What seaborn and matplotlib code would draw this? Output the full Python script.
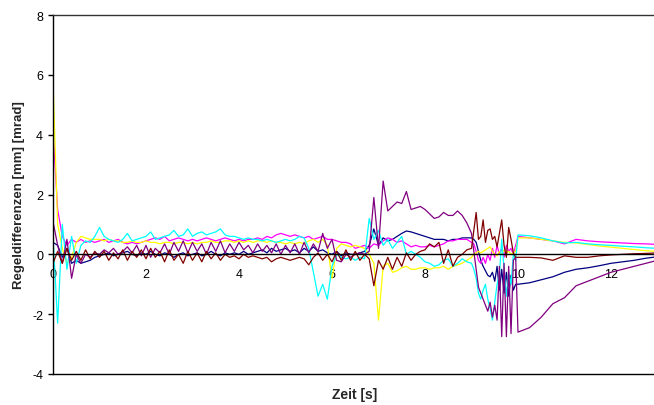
import numpy as np
import pandas as pd
import matplotlib
matplotlib.use("Agg")
import matplotlib.pyplot as plt
import seaborn as sns

# ---- sample times (s): 0.0-8.9 step 0.1, 9.0-9.95 step 0.05, 10.0-13.0 step 0.25
t_a = np.round(np.arange(0.0, 8.95, 0.1), 2)
t_b = np.round(np.arange(9.0, 9.99, 0.05), 2)
t_c = np.round(np.arange(10.0, 13.01, 0.25), 2)
zeit = np.concatenate([t_a, t_b, t_c])

series_names = ["Reihe1", "Reihe2", "Reihe3", "Reihe4", "Reihe5", "Reihe6"]
series_colors = ["#000080", "#FF00FF", "#FFFF00", "#00FFFF", "#800080", "#800000"]

reihe1 = [  # navy
    0.4, 0.3, -0.1, 0.2, -0.3, -0.2, -0.3, -0.25, -0.2, -0.1,
    -0.05, 0.0, 0.05, -0.05, 0.0, 0.05, 0.1, 0.0, -0.05, 0.05,
    0.0, 0.1, 0.0, -0.05, 0.05, 0.0, -0.1, 0.0, 0.05, -0.05,
    0.0, 0.05, -0.05, 0.0, 0.1, 0.0, -0.05, 0.05, 0.0, 0.05,
    0.0, 0.1, 0.0, 0.05, 0.1, 0.15, 0.05, 0.2, 0.1, 0.15,
    0.2, 0.1, 0.15, 0.05, 0.2, 0.1, 0.25, 0.1, 0.15, 0.05,
    0.0, 0.1, -0.05, 0.05, 0.0, 0.0, 0.05, 0.1, 0.3, 0.85,
    0.3, 0.55, 0.45, 0.5, 0.6, 0.7, 0.78, 0.75, 0.7, 0.65,
    0.6, 0.55, 0.5, 0.5, 0.5, 0.45, 0.5, 0.5, 0.55, 0.55,
    0.55, 0.5, 0.4, 0.1, -0.2, -0.4, -0.55, -0.7, -0.75, -0.6,
    -0.9, -0.4, -1.2, -0.5, -1.3, -0.6, -1.4, -0.7, -1.2, -1.0,
    -1.0, -0.95, -0.85, -0.75, -0.6, -0.5, -0.45, -0.38, -0.3, -0.25, -0.2, -0.13, -0.08,
]

reihe2 = [  # magenta
    4.1, 1.5, 0.6, 0.3, 0.5, 0.4, 0.5, 0.4, 0.45, 0.4,
    0.45, 0.5, 0.4, 0.45, 0.5, 0.4, 0.35, 0.4, 0.35, 0.4,
    0.45, 0.5, 0.55, 0.5, 0.6, 0.45, 0.5, 0.55, 0.5, 0.45,
    0.5, 0.45, 0.5, 0.55, 0.5, 0.45, 0.5, 0.55, 0.5, 0.45,
    0.5, 0.45, 0.5, 0.5, 0.55, 0.5, 0.6, 0.55, 0.65, 0.7,
    0.65, 0.6, 0.65, 0.6, 0.55, 0.6, 0.5, 0.55, 0.6, 0.5,
    0.5, 0.45, 0.4, 0.4, 0.35, 0.2, 0.25, 0.3, 0.2, 0.35,
    0.3, 0.45, 0.55, 0.5, 0.4, 0.45, 0.35, 0.25, 0.3, 0.25,
    0.25, 0.3, 0.25, 0.3, 0.35, 0.45, 0.45, 0.5, 0.5, 0.5,
    0.4, 0.35, 0.1, -0.2, -0.3, -0.1, -0.3, 0.0, -0.2, 0.2,
    -0.1, 0.3, 0.0, 0.2, -0.1, 0.3, 0.1, 0.2, 0.0, 0.3,
    0.6, 0.55, 0.5, 0.45, 0.35, 0.5, 0.45, 0.42, 0.4, 0.38, 0.36, 0.35, 0.33,
]

reihe3 = [  # yellow
    5.8, 1.0, 0.2, -0.3, -0.1, 0.4, 0.6, 0.55, 0.5, 0.5,
    0.5, 0.45, 0.5, 0.45, 0.45, 0.4, 0.4, 0.45, 0.4, 0.4,
    0.45, 0.4, 0.4, 0.35, 0.4, 0.4, 0.35, 0.4, 0.4, 0.35,
    0.4, 0.35, 0.4, 0.4, 0.45, 0.4, 0.4, 0.45, 0.45, 0.4,
    0.45, 0.4, 0.45, 0.4, 0.45, 0.45, 0.4, 0.45, 0.4, 0.4,
    0.35, 0.4, 0.35, 0.4, 0.35, 0.45, 0.5, 0.4, 0.5, 0.3,
    -0.8, 0.2, 0.35, 0.3, 0.25, 0.3, 0.25, 0.2, 0.0, -0.3,
    -2.2, -0.4, -0.3, -0.6, -0.55, -0.45, -0.4, -0.5, -0.5, -0.45,
    -0.45, -0.5, -0.45, -0.45, -0.4, -0.5, -0.4, -0.35, -0.3, -0.2,
    -0.1, 0.0, 0.05, 0.1, 0.05, 0.1, 0.15, 0.2, 0.25, 0.1,
    0.0, -0.05, 0.1, 0.0, 0.15, 0.05, 0.1, 0.0, 0.05, 0.1,
    0.55, 0.55, 0.5, 0.45, 0.4, 0.38, 0.33, 0.28, 0.24, 0.2, 0.16, 0.12, 0.1,
]

reihe4 = [  # cyan
    0.6, -2.3, 1.0, -0.5, 0.6, -0.3, 0.3, 0.45, 0.4, 0.6,
    0.9, 0.6, 0.5, 0.45, 0.4, 0.5, 0.7, 0.45, 0.5, 0.55,
    0.6, 0.75, 0.5, 0.55, 0.6, 0.65, 0.8, 0.6, 0.65, 0.85,
    0.6, 0.7, 0.75, 0.65, 0.7, 0.75, 0.85, 0.65, 0.6, 0.6,
    0.55, 0.5, 0.55, 0.5, 0.5, 0.45, 0.5, 0.45, 0.4, 0.45,
    0.5, 0.45, 0.5, 0.6, 0.55, 0.2, -0.6, -1.4, -1.0, -1.5,
    -0.4, 0.0, -0.1, -0.15, -0.1, -0.2, -0.1, -0.15, 1.2, 0.5,
    0.8, 0.3, 0.5, 0.2, 0.4, 0.6, 0.0, 0.1, 0.0, -0.1,
    -0.25, -0.3, -0.4, -0.35, -0.2, -0.15, -0.4, -0.3, -0.15, -0.25,
    -0.3, -0.5, -0.8, -1.3, -1.5, -1.2, -1.0, -1.5, -1.8, -2.2,
    -1.6, -1.0, -0.7, 0.5, -0.5, -1.4, -0.6, -1.0, 0.0, -0.2,
    0.65, 0.62, 0.55, 0.45, 0.38, 0.4, 0.35, 0.32, 0.3, 0.27, 0.25, 0.22, 0.2,
]

reihe5 = [  # purple
    1.1, 0.3, -0.3, 0.5, -0.8, 0.0, -0.3, 0.0, -0.1, 0.05,
    0.0, 0.15, 0.05, 0.2, 0.0, 0.1, 0.25, 0.05, 0.3, -0.05,
    0.3, -0.1, 0.2, 0.05, 0.35, 0.0, 0.4, 0.1, 0.45, 0.05,
    0.4, 0.1, 0.35, 0.0, 0.4, 0.1, 0.45, 0.05, 0.35, 0.1,
    0.4, 0.15, 0.3, 0.05, 0.35, 0.1, 0.3, 0.05, 0.35, 0.0,
    0.3, 0.05, 0.35, 0.0, 0.4, 0.05, 0.35, 0.1, 0.7, 0.2,
    0.5, -0.2, -0.25, 0.0, -0.1, 0.0, 0.05, 0.0, 0.1, 1.9,
    0.2, 2.45, 1.45, 1.6, 1.75, 1.7, 2.1, 1.5, 1.55, 1.6,
    1.5, 1.35, 1.2, 1.25, 1.4, 1.3, 1.3, 1.45, 1.3, 1.05,
    0.7, 0.1, -0.5, -1.1, -1.3, -1.5, -1.7, -1.9, -1.6, -2.1,
    -1.7, -2.2, -0.4, -2.75, -0.3, -2.75, -0.4, -2.65, -0.2, -0.1,
    -2.6, -2.45, -2.1, -1.65, -1.45, -1.05, -0.9, -0.75, -0.6, -0.5, -0.4, -0.3, -0.2,
]

reihe6 = [  # maroon
    -0.3, 0.1, -0.3, 0.2, -0.2, 0.1, -0.2, 0.15, -0.15, 0.1,
    -0.1, 0.1, -0.2, 0.05, -0.15, 0.15, -0.2, 0.1, -0.1, 0.15,
    -0.15, 0.2, -0.1, 0.1, -0.25, 0.15, -0.2, 0.0, -0.3, 0.1,
    -0.2, 0.05, -0.25, 0.1, -0.15, 0.05, -0.2, 0.0, -0.1, -0.05,
    -0.15, 0.0, -0.1, -0.05, -0.1, -0.15, -0.1, -0.25, -0.15, -0.1,
    -0.15, -0.2, -0.15, -0.1, -0.15, -0.35, -0.1, 0.05, -0.2, 0.0,
    -0.25, 0.1, -0.2, 0.15, -0.2, 0.1, -0.2, 0.0, -0.15, -1.05,
    -0.2, -0.5, -0.1, -0.5, -0.1, -0.4, 0.05, -0.2, 0.0, 0.1,
    0.15, 0.35, 0.25, 0.4, -0.3, 0.15, -0.4, -0.1, 0.0, 0.15,
    0.2, 0.8, 1.4, 0.5, 0.6, 1.15, 0.4, 0.8, 0.85, 0.5,
    0.6, 0.25, 0.7, 1.15, 0.3, -0.1, 0.9, 0.5, 0.05, -0.1,
    -0.1, -0.1, -0.12, -0.2, -0.05, -0.1, -0.1, -0.05, -0.02, 0.0, 0.02, 0.03, 0.05,
]

y_ticks = [-4, -2, 0, 2, 4, 6, 8]
x_ticks = [0, 2, 4, 6, 8, 10, 12]

all_series = [reihe1, reihe2, reihe3, reihe4, reihe5, reihe6]
frames = []
for name, vals in zip(series_names, all_series):
    assert len(vals) == len(zeit), (name, len(vals), len(zeit))
    frames.append(pd.DataFrame({"Zeit": zeit, "Wert": vals, "Reihe": name}))
df = pd.concat(frames, ignore_index=True)

sns.set_theme(style="white")
plt.rcParams["font.family"] = ["Liberation Sans", "DejaVu Sans"]

fig = plt.figure(figsize=(6.54, 4.06), dpi=100)
W, H = 654, 406
ax = fig.add_axes([53 / W, (H - 375) / H, 651 / W, 359 / H])

sns.lineplot(data=df, x="Zeit", y="Wert", hue="Reihe", hue_order=series_names,
             palette=series_colors, estimator=None, linewidth=0.9, legend=False,
             ax=ax)

ax.set_xlim(0, 14)
ax.set_ylim(-4, 8)
ax.set_yticks(y_ticks)
ax.set_xticks(x_ticks)
ax.set_xticklabels([str(v) for v in x_ticks])
ax.set_yticklabels([str(v) for v in y_ticks])

for s in ["left", "top", "right"]:
    ax.spines[s].set_visible(True)
    ax.spines[s].set_color("black")
    ax.spines[s].set_linewidth(1.0)
ax.spines["top"].set_color("#333333")
ax.spines["bottom"].set_position(("data", 0))
ax.spines["bottom"].set_color("black")
ax.spines["bottom"].set_linewidth(1.0)
ax.axhline(-4, color="black", linewidth=1.0, clip_on=False, zorder=5)

ax.tick_params(axis="y", direction="out", length=3.6, width=1, pad=3.5,
               labelsize=9, colors="black", left=True)
ax.tick_params(axis="x", length=0, pad=10.0, labelsize=9, colors="black")
ax.grid(False)

ax.set_xlabel("")
ax.set_ylabel("Regeldifferenzen [mm] [mrad]", fontsize=9.5, fontweight="bold",
              labelpad=5)
fig.text(355 / W, (H - 395) / H, "Zeit [s]", fontsize=10, fontweight="bold",
         ha="center", va="center")

fig.savefig("out.png", dpi=100)
